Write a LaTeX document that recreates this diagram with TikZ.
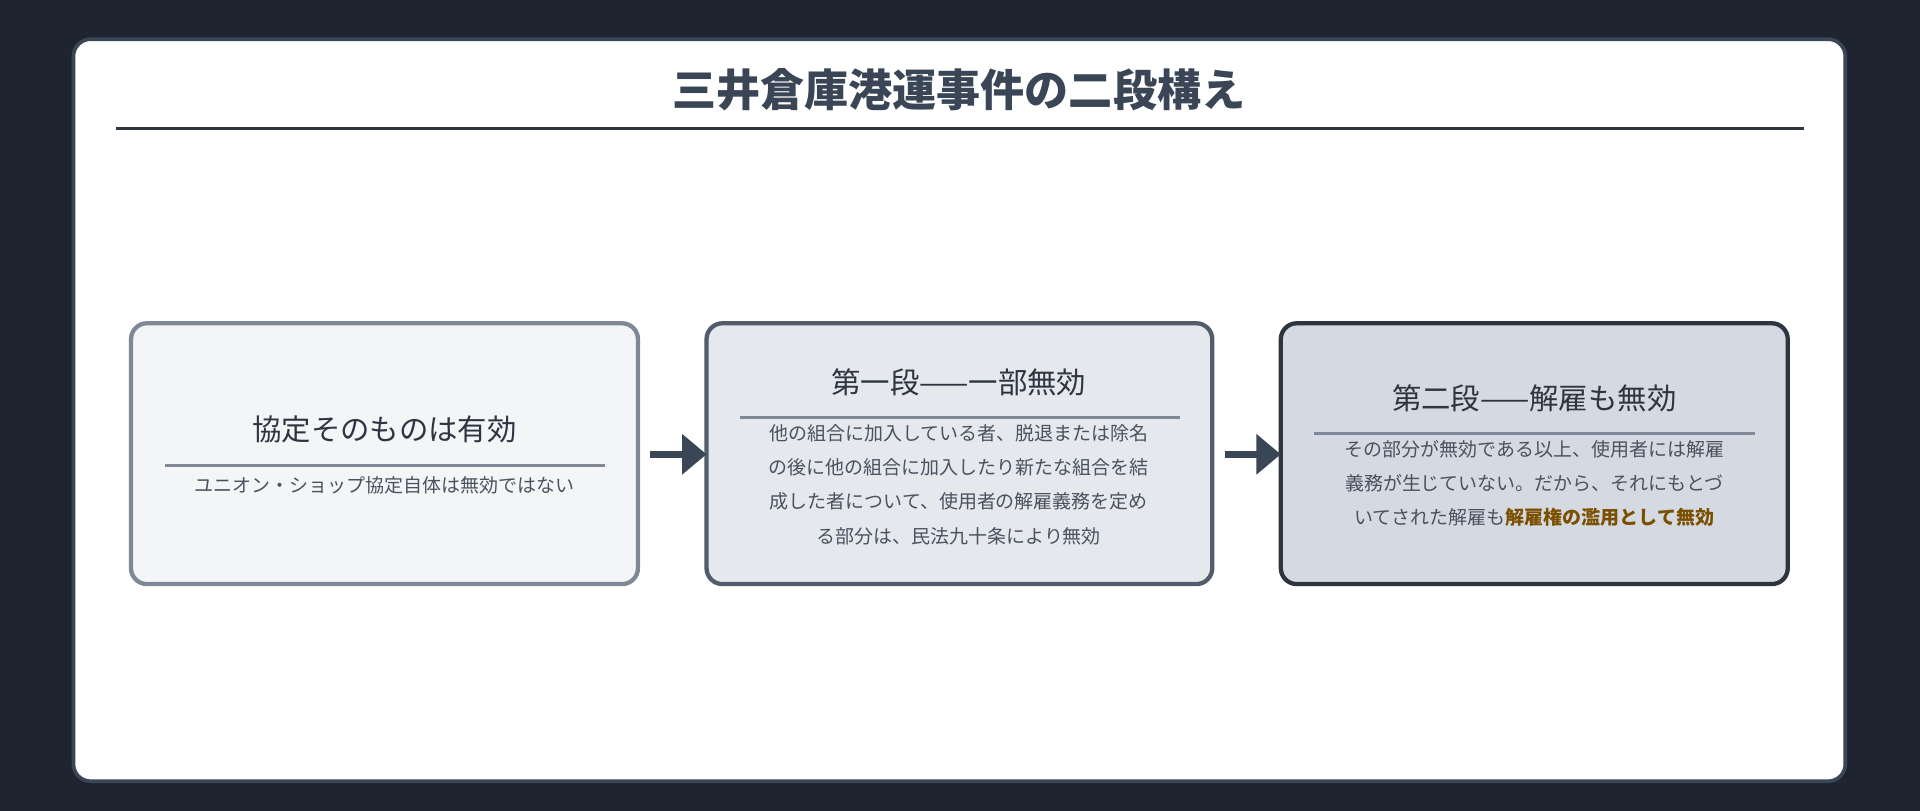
\documentclass[tikz,border=0pt]{standalone}
\usepackage{fontspec}
\setmainfont{Noto Sans CJK JP}
\usetikzlibrary{arrows.meta}
\definecolor{bgd}{HTML}{1E2530}
\definecolor{ink}{HTML}{3A4556}
\definecolor{txt}{HTML}{4A5260}
\definecolor{fa}{HTML}{F4F5F7}\definecolor{ba}{HTML}{7E8896}
\definecolor{fb}{HTML}{E5E8EC}\definecolor{bb}{HTML}{525C6B}
\definecolor{fc}{HTML}{D5D9E1}\definecolor{bc}{HTML}{2E3540}
\definecolor{hl}{HTML}{7A5000}
\begin{document}
\begin{tikzpicture}[x=1pt,y=-1pt,
 box/.style={draw,line width=3.5pt,rounded corners=13pt},
 head/.style={font=\fontsize{24}{28}\selectfont,text=bc},
 body/.style={font=\fontsize{15.5}{28}\selectfont,text=txt,align=center},
 sep/.style={line width=2pt,draw=ba},
 arr/.style={line width=6pt,draw=ink,-{Triangle[length=20pt,width=32pt]}}]
\useasboundingbox (0,0) rectangle (1568,662);
\fill[bgd] (0,0) rectangle (1568,662);
\draw[fill=white,draw=ink,line width=3pt,rounded corners=14pt] (60,32) rectangle (1507,638);
\node (title) at (783,73) {\fontsize{36}{40}\selectfont\bfseries\color{ink}三井倉庫港運事件の二段構え};
\draw[line width=2pt,draw=bc] (95,105) -- (1473,105);
% box1
\draw[box,fill=fa,draw=ba] (107,264) rectangle (521,477);
\node (a) at (314,264) {};
\node[head] (h1) at (314,351) {協定そのものは有効};
\draw[sep] (135,380) -- (494,380);
\node[body] (t1) at (314,396) {ユニオン・ショップ協定自体は無効ではない};
% box2
\draw[box,fill=fb,draw=bb] (577,264) rectangle (990,477);
\node[head] (h2) at (783,312) {第一段——一部無効};
\draw[sep] (604,341) -- (964,341);
\node[body,anchor=north] (t2) at (783,343) {他の組合に加入している者、脱退または除名\\の後に他の組合に加入したり新たな組合を結\\成した者について、使用者の解雇義務を定め\\る部分は、民法九十条により無効};
% box3
\draw[box,fill=fc,draw=bc] (1046,264) rectangle (1460,477);
\node[head] (h3) at (1253,325) {第二段——解雇も無効};
\draw[sep] (1073,354) -- (1433,354);
\node[body,anchor=north] (t3) at (1253,356) {その部分が無効である以上、使用者には解雇\\義務が生じていない。だから、それにもとづ\\いてされた解雇も{\bfseries\color{hl}解雇権の濫用として無効}};
\coordinate (p1) at (531,371);\coordinate (q1) at (577,371);
\coordinate (p2) at (1000,371);\coordinate (q2) at (1046,371);
\draw[arr] (p1) -- (q1);
\draw[arr] (p2) -- (q2);
\end{tikzpicture}
\end{document}
